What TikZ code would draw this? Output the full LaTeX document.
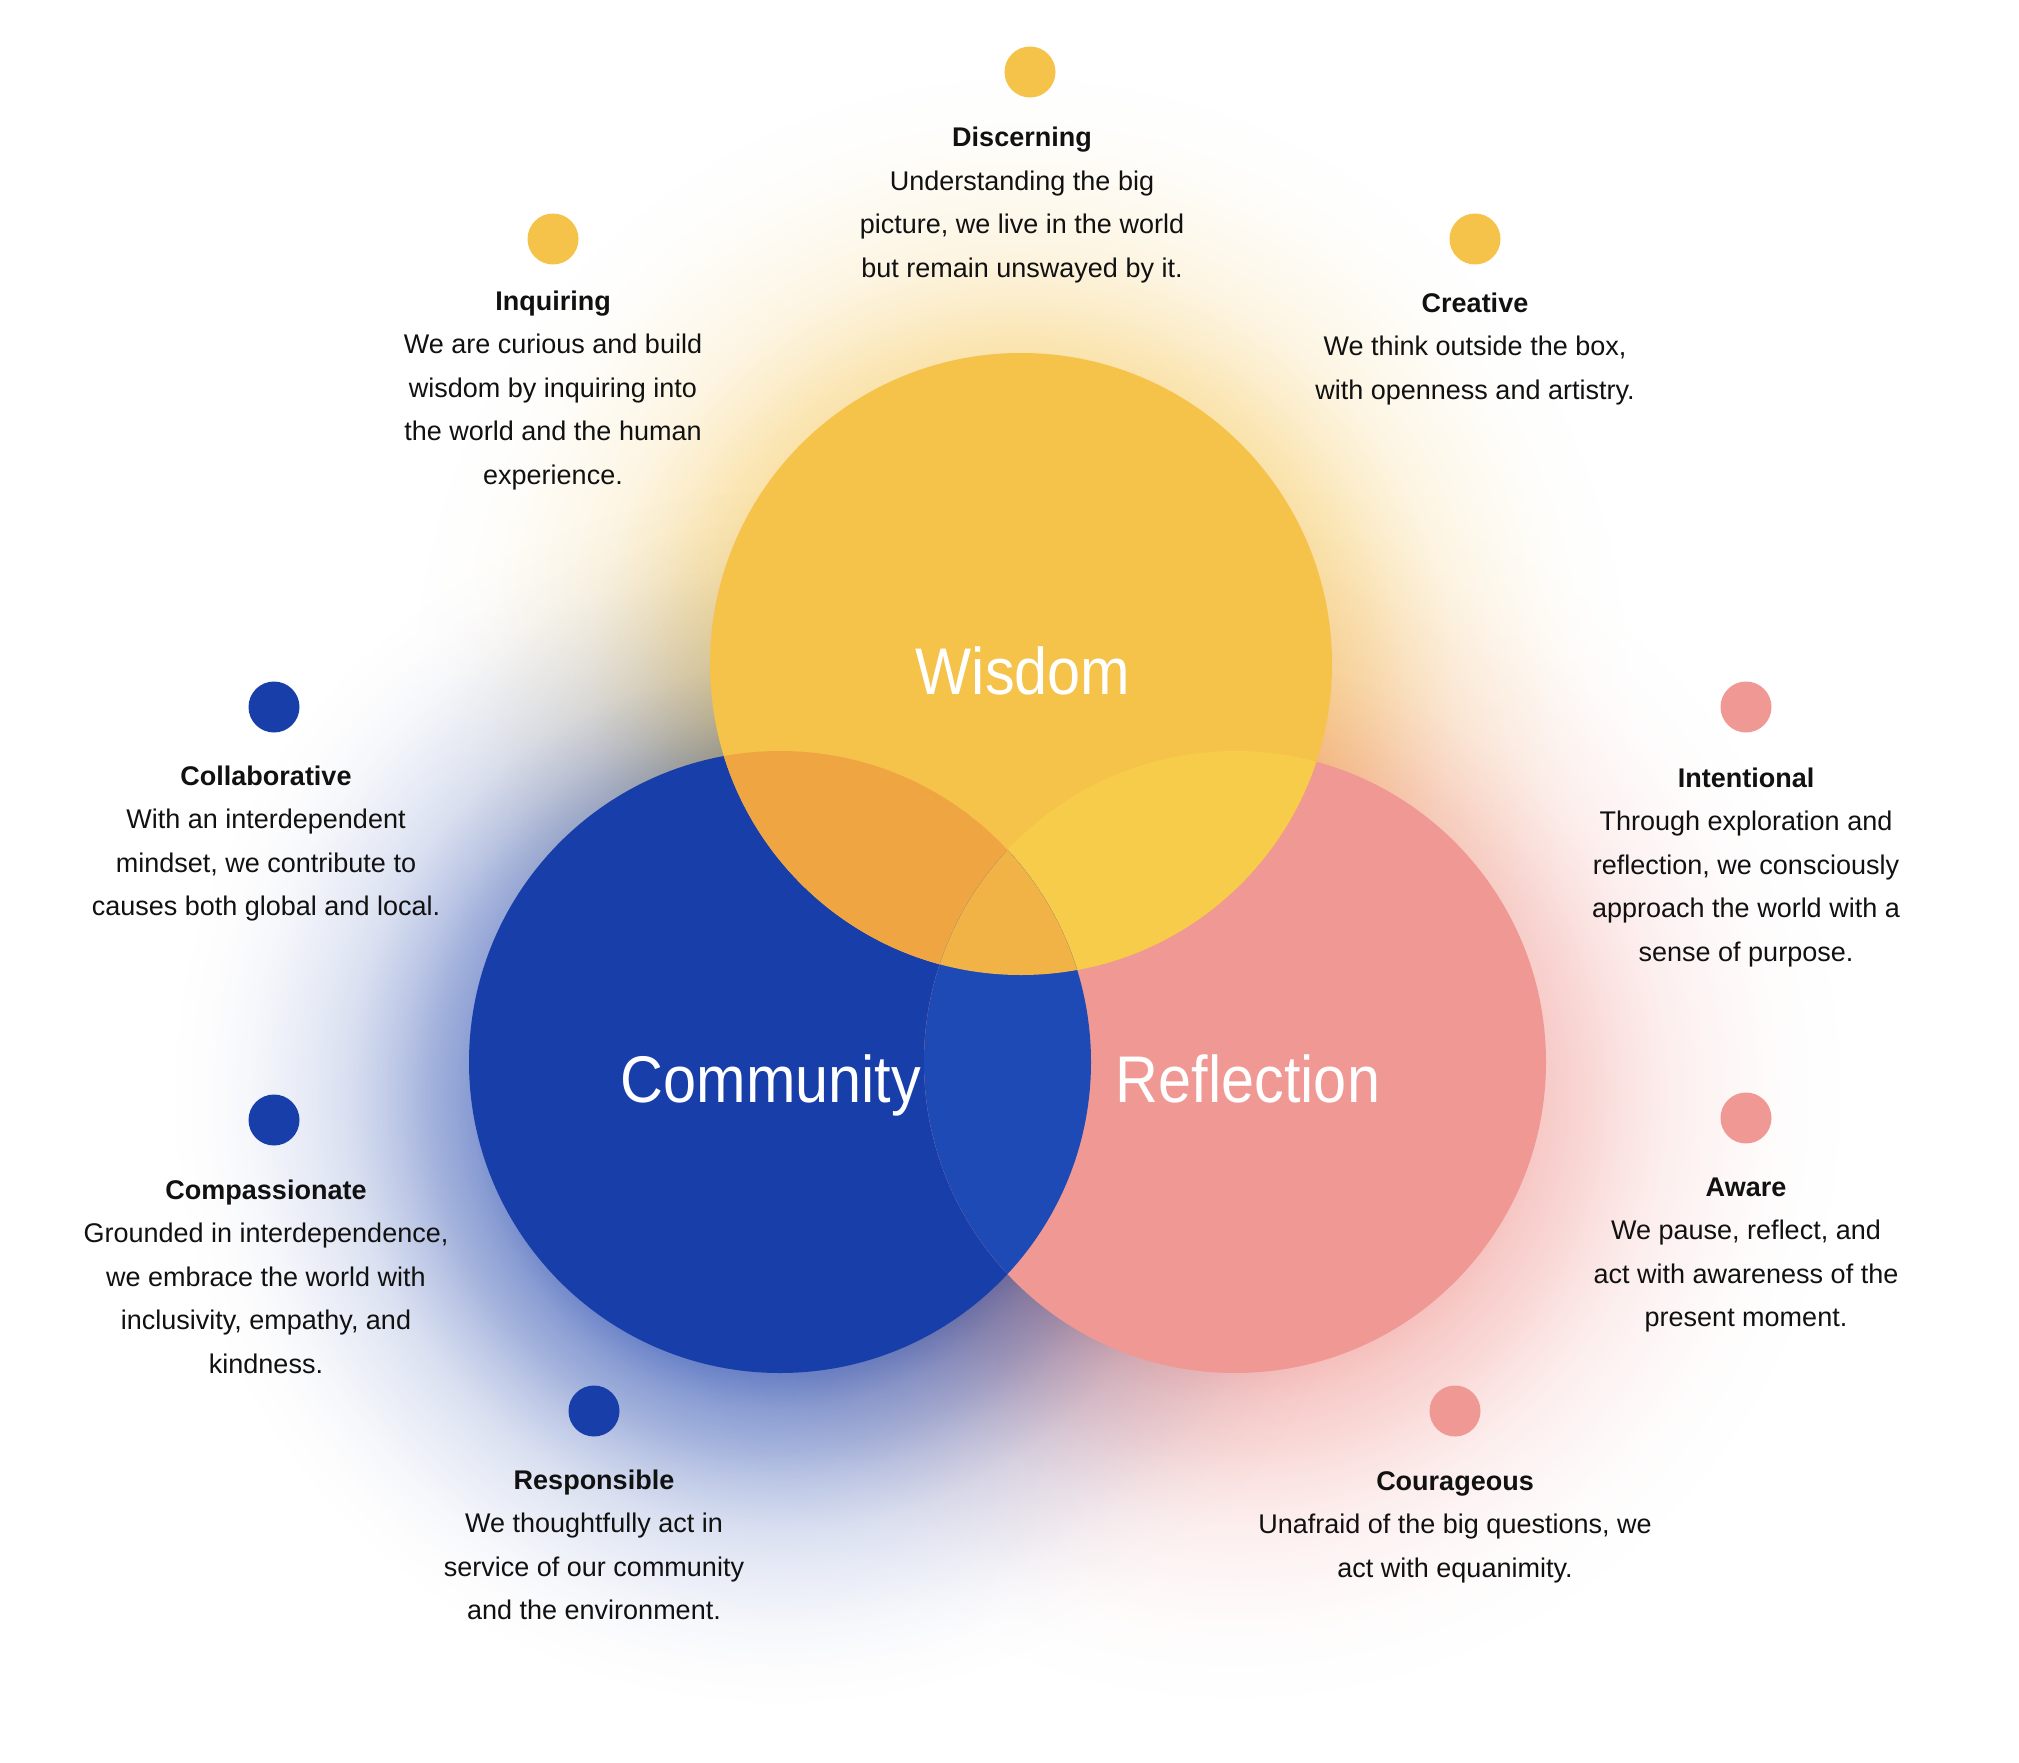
\documentclass[tikz,border=0pt]{standalone}
\usepackage{fontspec}
\setmainfont{Liberation Sans}
\newfontfamily\titlefont{Liberation Sans}[FakeStretch=0.9]
\usetikzlibrary{fadings}
\definecolor{wy}{HTML}{F5C24A}
\definecolor{cb}{HTML}{183EA9}
\definecolor{rp}{HTML}{F09994}
\definecolor{wc}{HTML}{F0A543}
\definecolor{wr}{HTML}{F6CC4A}
\definecolor{cr}{HTML}{1E4AB6}
\definecolor{ctr}{HTML}{F2B346}
\definecolor{ink}{HTML}{111111}
\pgfdeclareradialshading{glowshade}{\pgfpointorigin}{color(0bp)=(pgftransparent!30); color(10.27bp)=(pgftransparent!30); color(11.5bp)=(pgftransparent!38); color(12.72bp)=(pgftransparent!50); color(14.36bp)=(pgftransparent!61); color(15.59bp)=(pgftransparent!71); color(17.64bp)=(pgftransparent!84); color(19.07bp)=(pgftransparent!89); color(20.5bp)=(pgftransparent!93); color(21.73bp)=(pgftransparent!96.5); color(23.36bp)=(pgftransparent!99); color(25bp)=(pgftransparent!100); color(50bp)=(pgftransparent!100)}
\pgfdeclarefading{glowfade}{\pgfuseshading{glowshade}}
\newcommand\tblock[2]{\vtop{\baselineskip=43.5pt\lineskiplimit=-100pt\halign{\hfil##\hfil\cr\textbf{#1}\cr#2\crcr}}}
\tikzset{
  tb/.style={anchor=base, inner sep=0pt, text=ink, font=\fontsize{27}{43.5}\selectfont},
  dot/.style={circle, minimum size=51pt, inner sep=0pt, draw=none},
  big/.style={anchor=base, inner sep=0pt, text=white, font=\titlefont\fontsize{66}{70}\selectfont},
  glow/.style={path fading=glowfade}
}
\begin{document}
\begin{tikzpicture}[x=1pt, y=-1pt]
\useasboundingbox (0,0) rectangle (2019,1763);
\fill[white] (0,0) rectangle (2019,1763);
\coordinate (W) at (1021,664);
\coordinate (C) at (780,1062);
\coordinate (R) at (1235,1062);
% glows
\begin{scope}[blend group=multiply]
\fill[rp, glow] ([yshift=-30pt]R) circle (611);
\fill[cb, glow] ([yshift=-35pt]C) circle (611);
\fill[wy, glow] ([yshift=-20pt]W) circle (611);
\end{scope}
% circles
\fill[cb] (C) circle (311);
\fill[rp] (R) circle (311);
\fill[wy] (W) circle (311);
\begin{scope}
  \clip (W) circle (311);
  \fill[wc] (C) circle (311);
  \fill[wr] (R) circle (311);
  \clip (C) circle (311);
  \fill[ctr] (R) circle (311);
\end{scope}
\begin{scope}
  \clip (C) circle (311);
  \clip (R) circle (311);
  \fill[cr] (R) circle (311);
  \fill[ctr] (W) circle (311);
\end{scope}
% big labels
\node[big] (wisdom) at (1023,694) {Wisdom};
\node[big] (community) at (771,1102) {Community};
\node[big] (reflection) at (1248,1102) {Reflection};
% dots
\node[dot, fill=wy] (d1) at (1030,72) {};
\node[dot, fill=wy] (d2) at (553,239) {};
\node[dot, fill=wy] (d3) at (1475,239) {};
\node[dot, fill=cb] (d4) at (274,707) {};
\node[dot, fill=cb] (d5) at (274,1120) {};
\node[dot, fill=cb] (d6) at (594,1411) {};
\node[dot, fill=rp] (d7) at (1746,707) {};
\node[dot, fill=rp] (d8) at (1746,1118) {};
\node[dot, fill=rp] (d9) at (1455,1411) {};
% texts
\node[tb] (t1) at (1022,147) {\tblock{Discerning}{Understanding the big\cr picture, we live in the world\cr but remain unswayed by it.}};
\node[tb] (t2) at (553,310) {\tblock{Inquiring}{We are curious and build\cr wisdom by inquiring into\cr the world and the human\cr experience.}};
\node[tb] (t3) at (1475,312) {\tblock{Creative}{We think outside the box,\cr with openness and artistry.}};
\node[tb] (t4) at (266,785) {\tblock{Collaborative}{With an interdependent\cr mindset, we contribute to\cr causes both global and local.}};
\node[tb] (t5) at (266,1199) {\tblock{Compassionate}{Grounded in interdependence,\cr we embrace the world with\cr inclusivity, empathy, and\cr kindness.}};
\node[tb] (t6) at (594,1489) {\tblock{Responsible}{We thoughtfully act in\cr service of our community\cr and the environment.}};
\node[tb] (t7) at (1746,787) {\tblock{Intentional}{Through exploration and\cr reflection, we consciously\cr approach the world with a\cr sense of purpose.}};
\node[tb] (t8) at (1746,1196) {\tblock{Aware}{We pause, reflect, and\cr act with awareness of the\cr present moment.}};
\node[tb] (t9) at (1455,1490) {\tblock{Courageous}{Unafraid of the big questions, we\cr act with equanimity.}};
\end{tikzpicture}
\end{document}
